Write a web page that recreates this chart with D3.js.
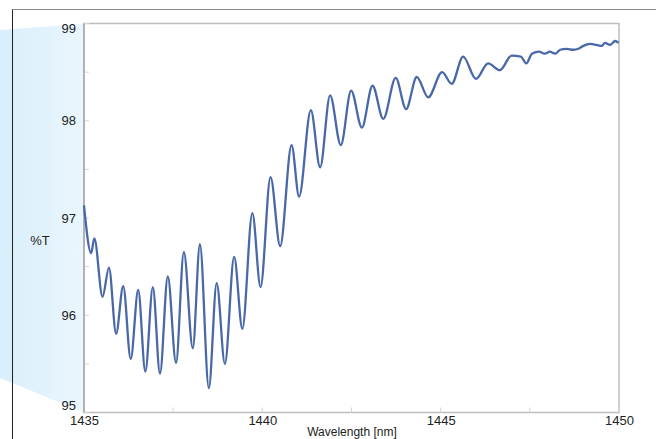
<!DOCTYPE html>
<html>
<head>
<meta charset="utf-8">
<script src="https://cdn.jsdelivr.net/npm/d3@7"></script>
<style>
  html, body { margin: 0; padding: 0; background: #fff; }
  svg { display: block; font-family: 'Liberation Sans', Arial, sans-serif; }
</style>
</head>
<body>
<div id="chart"></div>
<script>
// spectrum (wavelength nm, %T)
const wavelength = [
  1435.00, 1435.20, 1435.29, 1435.52, 1435.70, 1435.90, 1436.10, 1436.31, 1436.52, 1436.72,
  1436.93, 1437.13, 1437.35, 1437.58, 1437.80, 1438.05, 1438.25, 1438.50, 1438.72, 1438.95,
  1439.21, 1439.44, 1439.72, 1439.95, 1440.23, 1440.50, 1440.82, 1441.03, 1441.36, 1441.62,
  1441.90, 1442.20, 1442.49, 1442.79, 1443.09, 1443.39, 1443.74, 1444.03, 1444.33, 1444.65,
  1445.04, 1445.31, 1445.63, 1445.99, 1446.33, 1446.66, 1446.99, 1447.25, 1447.40, 1447.56,
  1447.76, 1447.92, 1448.06, 1448.21, 1448.35, 1448.53, 1448.72, 1448.86, 1449.00, 1449.19,
  1449.37, 1449.51, 1449.61, 1449.75, 1449.89, 1449.99
];
const transmittance = [
  97.13, 96.64, 96.79, 96.19, 96.49, 95.81, 96.30, 95.55, 96.26, 95.42,
  96.29, 95.40, 96.40, 95.51, 96.65, 95.66, 96.73, 95.25, 96.33, 95.50,
  96.60, 95.86, 97.05, 96.29, 97.42, 96.71, 97.75, 97.22, 98.11, 97.52,
  98.26, 97.75, 98.31, 97.93, 98.36, 98.02, 98.44, 98.12, 98.45, 98.24,
  98.50, 98.38, 98.66, 98.43, 98.59, 98.52, 98.67, 98.66, 98.59, 98.69,
  98.71, 98.69, 98.71, 98.69, 98.73, 98.74, 98.73, 98.74, 98.77, 98.79,
  98.78, 98.77, 98.80, 98.78, 98.82, 98.80
];
const xTicks = [1435, 1440, 1445, 1450];
const yTicks = [95, 96, 97, 98, 99];
const xMinorTicks = [1437.5, 1442.5, 1447.5];
const yMinorTicks = [95.5, 96.5, 97.5, 98.5];

const width = 656;
const height = 439;
const margin = { top: 23.5, right: 37, bottom: 26.5, left: 84 };

const svg = d3.select('#chart').append('svg')
  .attr('width', width)
  .attr('height', height);

const defs = svg.append('defs');
const grad = defs.append('linearGradient')
  .attr('id', 'sideFade')
  .attr('x1', '0%').attr('x2', '100%')
  .attr('y1', '0%').attr('y2', '0%');
grad.append('stop').attr('offset', '0%').attr('stop-color', '#d9eefb');
grad.append('stop').attr('offset', '100%').attr('stop-color', '#eaf6fd');

const x = d3.scaleLinear().domain([1435, 1450]).range([margin.left, width - margin.right]);
const y = d3.scaleLinear().domain([95, 99]).range([height - margin.bottom, margin.top]);

// light blue band on the left
svg.append('path')
  .attr('d', `M0,30 L${margin.left},${margin.top} L${margin.left},${height - margin.bottom} L0,378 Z`)
  .style('fill', 'url(#sideFade)');

// outer frame
svg.append('line')
  .attr('x1', 12.5).attr('y1', 9.5).attr('x2', width).attr('y2', 9.5)
  .style('stroke', '#8a8a8a');
svg.append('line')
  .attr('x1', 12.5).attr('y1', 9.5).attr('x2', 12.5).attr('y2', height)
  .style('stroke', '#222');

// plot background + border
svg.append('rect')
  .attr('x', margin.left).attr('y', margin.top)
  .attr('width', width - margin.right - margin.left)
  .attr('height', height - margin.bottom - margin.top)
  .style('fill', '#fff')
  .style('stroke', '#bdbdbd')
  .style('stroke-width', 1.5);

// small inner ticks
const g = svg.append('g');
g.selectAll('.ytick')
  .data(yTicks.concat(yMinorTicks))
  .enter().append('line')
  .attr('x1', margin.left).attr('x2', margin.left + 5)
  .attr('y1', (d) => y(d)).attr('y2', (d) => y(d))
  .style('stroke', '#d6d6d6');
g.selectAll('.xtick')
  .data(xTicks.concat(xMinorTicks))
  .enter().append('line')
  .attr('x1', (d) => x(d)).attr('x2', (d) => x(d))
  .attr('y1', height - margin.bottom).attr('y2', height - margin.bottom - 5)
  .style('stroke', '#d6d6d6');
svg.append('line')
  .attr('x1', margin.left).attr('x2', margin.left)
  .attr('y1', margin.top).attr('y2', height - margin.bottom)
  .style('stroke', '#a8a8a8')
  .style('stroke-width', 1.5);

// axes labels via d3 axes, lines hidden
const yAxis = d3.axisLeft(y).tickValues(yTicks).tickSize(0).tickPadding(8).tickFormat(d3.format('d'));
const xAxis = d3.axisBottom(x).tickValues(xTicks).tickSize(0).tickPadding(3).tickFormat(d3.format('d'));

const ya = svg.append('g')
  .attr('transform', `translate(${margin.left},0)`)
  .call(yAxis);
const xa = svg.append('g')
  .attr('transform', `translate(0,${height - margin.bottom})`)
  .call(xAxis);
[ya, xa].forEach((a) => {
  a.select('.domain').remove();
  a.selectAll('text')
    .style('font-family', "'Liberation Sans', Arial, sans-serif")
    .style('font-size', '13px')
    .style('fill', '#222');
});
// end labels sit inside the range
ya.selectAll('.tick')
  .filter((d) => d === 99)
  .select('text').attr('dy', '0.7em');
ya.selectAll('.tick')
  .filter((d) => d === 95)
  .select('text').attr('dy', '-0.2em');

svg.append('text')
  .attr('x', 40).attr('y', 245)
  .attr('text-anchor', 'middle')
  .style('font-size', '13px')
  .style('fill', '#222')
  .text('%T');

svg.append('text')
  .attr('x', 352).attr('y', 436)
  .attr('text-anchor', 'middle')
  .style('font-size', '12px')
  .style('fill', '#222')
  .text('Wavelength [nm]');

// spectrum line
const data = wavelength.map((w, i) => ({ w, t: transmittance[i] }));
const line = d3.line()
  .x((d) => x(d.w))
  .y((d) => y(d.t))
  .curve(d3.curveMonotoneX);

svg.append('path')
  .datum(data)
  .attr('d', line)
  .style('fill', 'none')
  .style('stroke', '#4868a8')
  .style('stroke-width', 2.3)
  .style('stroke-linejoin', 'round');
</script>
</body>
</html>
